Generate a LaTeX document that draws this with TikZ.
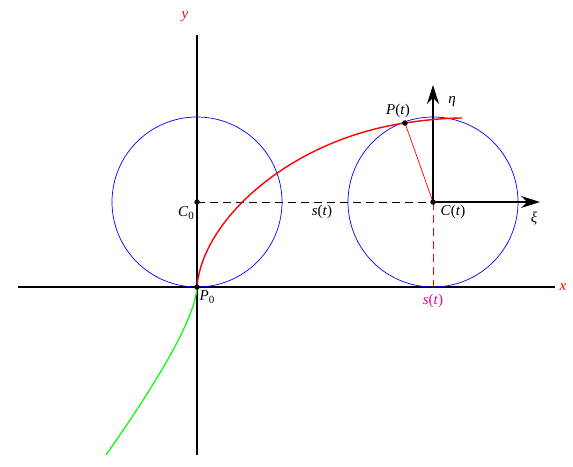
\documentclass[tikz,border=0pt]{standalone}
\usepackage{fontspec}
\setmainfont{Liberation Serif}
\usetikzlibrary{arrows.meta}
\newcommand{\mysubidx}[1]{\raisebox{-0.35ex}{\fontsize{11}{12}\selectfont #1}}
\begin{document}
\begin{tikzpicture}[x=1pt,y=-1pt,
  axis/.style={line width=1.1pt},
  circ/.style={blue,line width=0.7pt},
  dsh/.style={line width=0.9pt,dash pattern=on 8pt off 5pt},
  bigarrow/.style={line width=1.1pt,-{Stealth[length=19pt,width=12pt]}},
  dot/.style={circle,fill=black,inner sep=0pt,minimum size=5.5pt},
  lbl/.style={font=\fontsize{15}{18}\selectfont,inner sep=1pt}]
\useasboundingbox (0,0) rectangle (573,466);
% named points
\coordinate (P0) at (197,287);
\coordinate (C0) at (197,202);
\coordinate (Ct) at (433,202);
\coordinate (Pt) at (405,123);
\coordinate (St) at (433,287);
\coordinate (xL) at (18,287);
\coordinate (xR) at (555,287);
\coordinate (yT) at (197,35);
\coordinate (yB) at (197,455);
\coordinate (etaE) at (433,85);
\coordinate (xiE) at (540,202);
\coordinate (Rend) at (462,118);
\coordinate (Gend) at (106,455);
% axes
\draw[axis] (xL) -- (xR);
\draw[axis] (yT) -- (yB);
% circles
\draw[circ] (C0) circle[radius=85];
\draw[circ] (Ct) circle[radius=85];
% dashed lines
\draw[dsh] (C0) -- (Ct);
\draw[dsh,red] (Ct) -- (St);
% local axes
\draw[bigarrow] (Ct) -- (etaE);
\draw[bigarrow] (Ct) -- (xiE);
% curves
\draw[red,line width=1.4pt] (P0) .. controls (202,220) and (290,140) .. (Pt)
   .. controls (425,120) and (445,118) .. (Rend);
\draw[green,line width=1.2pt] (P0) .. controls (195,320) and (155,385) .. (Gend);
% radius
\draw[red,line width=0.7pt] (Ct) -- (Pt);
% dots
\node[dot] (dP0) at (P0) {};
\node[dot] (dC0) at (C0) {};
\node[dot] (dCt) at (Ct) {};
\node[dot] (dPt) at (Pt) {};
% labels
\node[lbl,red] (ly) at (185,17) {\textit{y}};
\node[lbl,red] (lx) at (563,287) {\textit{x}};
\node[lbl] (lC0) at (186,213) {\textit{C}\mysubidx{0}};
\node[lbl] (ls) at (322,212) {\textit{s}(\textit{t})};
\node[lbl] (lCt) at (453,212) {\textit{C}(\textit{t})};
\node[lbl] (lxi) at (534,219) {\textit{ξ}};
\node[lbl] (leta) at (452,102) {\textit{η}};
\node[lbl] (lPt) at (398,111) {\textit{P}(\textit{t})};
\node[lbl] (lP0) at (207,297) {\textit{P}\mysubidx{0}};
\node[lbl,magenta] (lS) at (433,301) {\textit{s}(\textit{t})};
\end{tikzpicture}
\end{document}
